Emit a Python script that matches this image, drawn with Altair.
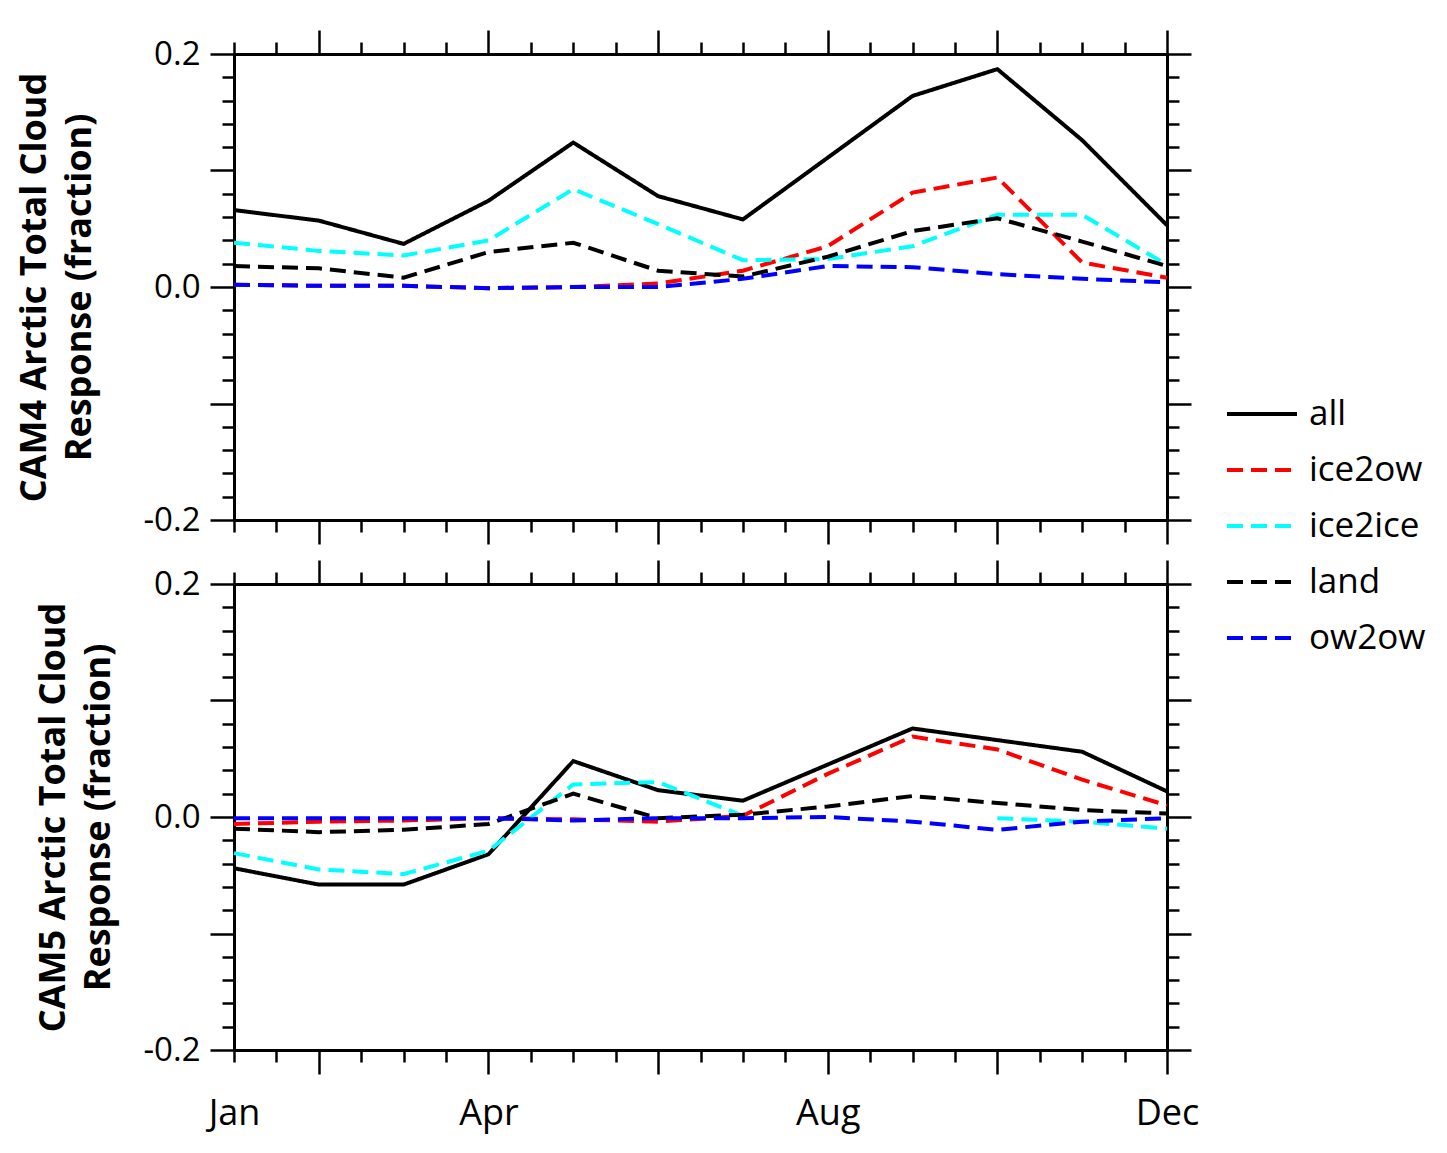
import altair as alt
import pandas as pd

# ---- data ----
months = [1, 2, 3, 4, 5, 6, 7, 8, 9, 10, 11, 12]
series = ["all", "ice2ow", "ice2ice", "land", "ow2ow"]
colors = ["#000000", "#ff0000", "#00ffff", "#000000", "#0000ff"]
dashes = [[1, 0], [16, 8], [16, 8], [16, 8], [16, 8]]

cam4_all = [0.066, 0.057, 0.037, 0.074, 0.124, 0.078, 0.058, 0.111, 0.164, 0.187, 0.126, 0.053]
cam4_ice2ow = [0.002, 0.001, 0.001, -0.001, 0.000, 0.003, 0.014, 0.035, 0.081, 0.094, 0.021, 0.008]
cam4_ice2ice = [0.038, 0.031, 0.027, 0.040, 0.084, 0.054, 0.023, 0.024, 0.035, 0.062, 0.062, 0.019]
cam4_land = [0.018, 0.016, 0.008, 0.030, 0.038, 0.014, 0.009, 0.026, 0.048, 0.059, 0.039, 0.018]
cam4_ow2ow = [0.002, 0.001, 0.001, -0.001, 0.000, 0.000, 0.007, 0.018, 0.017, 0.011, 0.007, 0.004]

cam5_all = [-0.044, -0.058, -0.058, -0.032, 0.048, 0.023, 0.014, 0.045, 0.076, 0.066, 0.056, 0.022]
cam5_ice2ow = [-0.006, -0.004, -0.003, -0.001, -0.002, -0.004, 0.001, 0.037, 0.069, 0.058, 0.032, 0.010]
cam5_ice2ice = [-0.031, -0.045, -0.049, -0.029, 0.028, 0.030, 0.001, None, None, -0.001, -0.004, -0.010]
cam5_land = [-0.010, -0.013, -0.011, -0.006, 0.020, -0.001, 0.002, 0.009, 0.018, 0.012, 0.006, 0.003]
cam5_ow2ow = [-0.001, -0.001, -0.001, -0.001, -0.003, -0.001, -0.001, 0.000, -0.004, -0.011, -0.004, -0.001]

x_tick_values = [1 + 0.5 * i for i in range(23)]
x_major = [2, 4, 6, 8, 10, 12]
x_label_pos = [1, 4, 8, 12]
x_label_text = ["Jan", "Apr", "Aug", "Dec"]

y_tick_values = [round(-0.2 + 0.02 * i, 2) for i in range(21)]
y_major = [-0.2, -0.1, 0.0, 0.1, 0.2]
y_label_pos = [-0.2, 0.0, 0.2]
y_label_text = ["-0.2", "0.0", "0.2"]

FONT = "Open Sans"


def long_df(vals):
    rows = []
    for s, v in zip(series, vals):
        for m, y in zip(months, v):
            rows.append({"month": m, "value": y, "series": s})
    return pd.DataFrame(rows)


df4 = long_df([cam4_all, cam4_ice2ow, cam4_ice2ice, cam4_land, cam4_ow2ow])
df5 = long_df([cam5_all, cam5_ice2ow, cam5_ice2ice, cam5_land, cam5_ow2ow])

x_major_test = "indexof([" + ",".join(str(v) for v in x_major) + "], datum.value) >= 0"
y_major_test = "abs(datum.value*10 - round(datum.value*10)) < 1e-6"
x_tick_size = {"condition": {"test": x_major_test, "value": 24}, "value": 12}
y_tick_size = {"condition": {"test": y_major_test, "value": 24}, "value": 12}
x_label_pad = {"condition": {"test": x_major_test, "value": 22}, "value": 34}
y_label_pad = {"condition": {"test": y_major_test, "value": 10}, "value": 22}

x_label_expr = "".join(
    f"datum.value == {p} ? '{t}' : " for p, t in zip(x_label_pos, x_label_text)
) + "''"
y_label_expr = "".join(
    f"abs(datum.value - ({p})) < 1e-6 ? '{t}' : " for p, t in zip(y_label_pos, y_label_text)
) + "''"

x_scale = alt.Scale(domain=[1, 12], nice=False, zero=False)
y_scale = alt.Scale(domain=[-0.2, 0.2], nice=False, zero=False)

common_axis = dict(
    grid=False,
    domainColor="black",
    domainWidth=3,
    tickColor="black",
    tickWidth=2.5,
    labelFont=FONT,
    labelFontSize=33,
    labelColor="black",
    labelOverlap=False,
    labelFlush=False,
)


def panel(df, title_lines, show_xlabels, title_pad):
    x_bottom = alt.X(
        "month:Q",
        scale=x_scale,
        title=None,
        axis=alt.Axis(
            orient="bottom",
            values=x_tick_values,
            tickSize=x_tick_size,
            labels=show_xlabels,
            labelExpr=x_label_expr,
            labelPadding=x_label_pad,
            **{**common_axis, "labelFontSize": 36},
        ),
    )
    y_left = alt.Y(
        "value:Q",
        scale=y_scale,
        title=title_lines,
        axis=alt.Axis(
            orient="left",
            values=y_tick_values,
            tickSize=y_tick_size,
            labelExpr=y_label_expr,
            labelPadding=y_label_pad,
            titleFont=FONT,
            titleFontSize=36,
            titleFontWeight="bold",
            titleColor="black",
            titleLineHeight=45,
            titlePadding=title_pad,
            **common_axis,
        ),
    )
    x_top = alt.X(
        "month:Q",
        scale=x_scale,
        title=None,
        axis=alt.Axis(
            orient="top",
            values=x_tick_values,
            tickSize=x_tick_size,
            labels=False,
            **common_axis,
        ),
    )
    y_right = alt.Y(
        "value:Q",
        scale=y_scale,
        title=None,
        axis=alt.Axis(
            orient="right",
            values=y_tick_values,
            tickSize=y_tick_size,
            labels=False,
            **common_axis,
        ),
    )
    lines = alt.Chart(df).mark_line(
        strokeWidth=4, invalid="break-paths-show-domains"
    ).encode(
        x=x_bottom,
        y=y_left,
        color=alt.Color(
            "series:N",
            scale=alt.Scale(domain=series, range=colors),
            sort=series,
            title=None,
        ),
        strokeDash=alt.StrokeDash(
            "series:N",
            scale=alt.Scale(domain=series, range=dashes),
            sort=series,
            title=None,
        ),
    )
    frame = alt.Chart(df).mark_line(opacity=0, invalid="break-paths-show-domains").encode(
        x=x_top, y=y_right, detail="series:N"
    )
    return (
        alt.layer(lines, frame)
        .resolve_axis(x="independent", y="independent")
        .properties(width=933, height=466)
    )


top = panel(df4, ["CAM4 Arctic Total Cloud", "Response (fraction)"], False, 44)
bottom = panel(df5, ["CAM5 Arctic Total Cloud", "Response (fraction)"], True, 25)

chart = (
    alt.vconcat(top, bottom, spacing=12)
    .properties(padding={"left": 16, "top": 28, "right": 5, "bottom": 5}, background="white")
    .configure_view(strokeWidth=0)
    .configure_legend(
        orient="none",
        legendX=991,
        legendY=340,
        symbolType="stroke",
        symbolSize=4900,
        symbolStrokeWidth=4,
        labelFont=FONT,
        labelFontSize=35,
        labelColor="black",
        labelOffset=10,
        clipHeight=40,
        rowPadding=16,
        padding=0,
    )
)

chart.save("out.html", embed_options={"renderer": "svg", "actions": False})
